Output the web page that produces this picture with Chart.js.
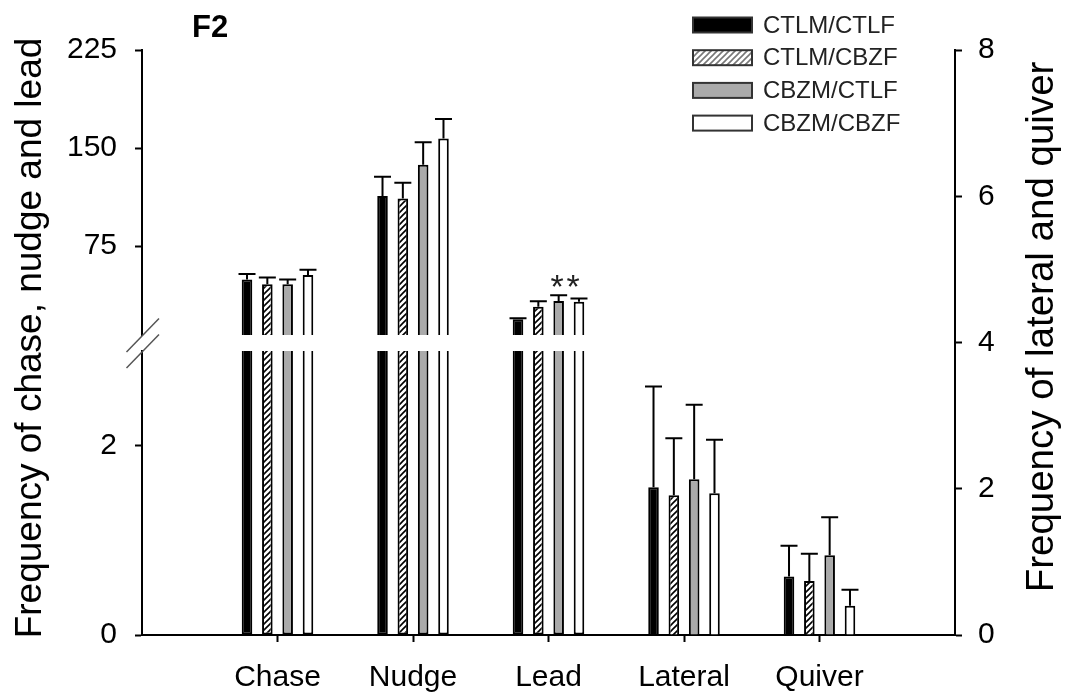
<!DOCTYPE html>
<html>
<head>
<meta charset="utf-8">
<script src="https://cdn.jsdelivr.net/npm/chart.js@4.4.1/dist/chart.umd.min.js"></script>
<style>
  html, body { margin: 0; padding: 0; background: #fff; }
</style>
</head>
<body>
<canvas id="chart" width="1065" height="698"></canvas>
<script>
const categories = ['Chase', 'Nudge', 'Lead', 'Lateral', 'Quiver'];
const groupNames = ['CTLM/CTLF', 'CTLM/CBZF', 'CBZM/CTLF', 'CBZM/CBZF'];

// means: chase, nudge, lead (left axis) / lateral, quiver (right axis)
const ctlmCtlf = [49.5, 113.3, 19.1, 2.02, 0.80];
const ctlmCbzf = [45.9, 111.5, 28.6, 1.91, 0.74];
const cbzmCtlf = [45.9, 137.2, 33.1, 2.13, 1.09];
const cbzmCbzf = [52.8, 157.4, 32.4, 1.94, 0.40];

// upper error bars
const ctlmCtlfErr = [4.1, 14.7, 0.8, 1.38, 0.42];
const ctlmCbzfErr = [5.1, 11.9, 4.3, 0.78, 0.37];
const cbzmCtlfErr = [3.6, 17.2, 4.4, 1.02, 0.52];
const cbzmCbzfErr = [4.2, 14.8, 2.6, 0.73, 0.22];

const leftTicksTop = [75, 150, 225];
const leftTicksBottom = [0, 2];
const rightTicks = [0, 2, 4, 6, 8];

const leftCount = 3; // first three categories use the left (broken) axis
const bottomMax = 3;
const FONT = '"Liberation Sans", Arial, sans-serif';

const makeHatch = (lineColor) => {
  const c = document.createElement('canvas');
  c.width = 6;
  c.height = 6;
  const g = c.getContext('2d');
  g.fillStyle = '#fff';
  g.fillRect(0, 0, 6, 6);
  g.strokeStyle = lineColor;
  g.lineWidth = 1.6;
  g.beginPath();
  g.moveTo(0, 6); g.lineTo(6, 0);
  g.moveTo(-1, 1); g.lineTo(1, -1);
  g.moveTo(5, 7); g.lineTo(7, 5);
  g.stroke();
  return g.createPattern(c, 'repeat');
};

const series = [ctlmCtlf, ctlmCbzf, cbzmCtlf, cbzmCbzf];
const errors = [ctlmCtlfErr, ctlmCbzfErr, cbzmCtlfErr, cbzmCbzfErr];
const fills = ['#000000', makeHatch('#000'), '#aaaaaa', '#ffffff'];
const legendFills = ['#000000', makeHatch('#777'), '#aaaaaa', '#ffffff'];

const xLabels = ['', ...categories, ''];
const pad = arr => [null, ...arr, null];

const datasets = [];
series.forEach((values, i) => {
  const common = {
    label: groupNames[i],
    backgroundColor: fills[i],
    borderColor: '#000',
    borderWidth: 2,
    stack: 'g' + i,
    categoryPercentage: 0.6,
    barPercentage: 0.52
  };
  datasets.push({ ...common, yAxisID: 'yTop',
    data: pad(values.map((v, j) => j < leftCount ? v : null)) });
  datasets.push({ ...common, yAxisID: 'yBottom', borderSkipped: 'end',
    data: pad(values.map((v, j) => j < leftCount ? Math.min(v, bottomMax) : null)) });
  datasets.push({ ...common, yAxisID: 'yRight',
    data: pad(values.map((v, j) => j < leftCount ? null : v)) });
});

const tickFont = { family: FONT, size: 30 };
const axisGrid = { drawOnChartArea: false, tickLength: 7, tickWidth: 2, tickColor: '#000' };
const axisBorder = { color: '#000', width: 2 };

const decorations = {
  id: 'decorations',
  afterDatasetsDraw(chart) {
    const ctx = chart.ctx;
    const { yTop, yBottom, yRight, x } = chart.scales;
    ctx.save();

    // error bars
    ctx.strokeStyle = '#000';
    ctx.lineWidth = 2;
    series.forEach((values, i) => {
      values.forEach((v, j) => {
        const left = j < leftCount;
        const meta = chart.getDatasetMeta(i * 3 + (left ? 0 : 2));
        const bar = meta.data[j + 1];
        const scale = left ? yTop : yRight;
        const yEnd = scale.getPixelForValue(v + errors[i][j]);
        ctx.beginPath();
        ctx.moveTo(bar.x, bar.y);
        ctx.lineTo(bar.x, yEnd);
        ctx.moveTo(bar.x - 8.5, yEnd);
        ctx.lineTo(bar.x + 8.5, yEnd);
        ctx.stroke();
      });
    });

    // axis break marks
    const ax = yTop.right;
    ctx.strokeStyle = '#555';
    ctx.lineWidth = 1.5;
    [yTop.bottom + 1, yBottom.top + 1].forEach(yy => {
      ctx.beginPath();
      ctx.moveTo(ax - 15.5, yy + 16);
      ctx.lineTo(ax + 17, yy - 17.5);
      ctx.stroke();
    });

    // significance marks over Lead
    const leadX = x.getPixelForValue(3);
    const starY = yTop.getPixelForValue(cbzmCtlf[2] + cbzmCtlfErr[2]) + 3;
    ctx.fillStyle = '#222';
    ctx.font = '34px ' + FONT;
    ctx.textAlign = 'center';
    ctx.textBaseline = 'alphabetic';
    ctx.fillText('*', leadX + 8.5, starY);
    ctx.fillText('*', leadX + 24.5, starY);
    ctx.restore();
  },
  afterDraw(chart) {
    const ctx = chart.ctx;
    ctx.save();
    ctx.fillStyle = '#000';
    ctx.textAlign = 'center';
    ctx.textBaseline = 'alphabetic';

    ctx.font = '37px ' + FONT;
    ctx.save();
    ctx.translate(41, 338);
    ctx.rotate(-Math.PI / 2);
    ctx.fillText('Frequency of chase, nudge and lead', 0, 0);
    ctx.restore();

    ctx.font = '38.5px ' + FONT;
    ctx.save();
    ctx.translate(1053, 327);
    ctx.rotate(-Math.PI / 2);
    ctx.fillText('Frequency of lateral and quiver', 0, 0);
    ctx.restore();

    ctx.font = 'bold 31px ' + FONT;
    ctx.textAlign = 'left';
    ctx.fillText('F2', 192, 37);

    // legend
    ctx.font = '24px ' + FONT;
    ctx.textBaseline = 'middle';
    groupNames.forEach((name, i) => {
      const cy = 25 + i * 32.7;
      ctx.fillStyle = legendFills[i];
      ctx.fillRect(693, cy - 7.5, 59, 15);
      ctx.strokeStyle = '#333';
      ctx.lineWidth = 2;
      ctx.strokeRect(693, cy - 7.5, 59, 15);
      ctx.fillStyle = '#222';
      ctx.fillText(name, 763, cy + 1);
    });
    ctx.restore();
  }
};

new Chart(document.getElementById('chart'), {
  type: 'bar',
  data: { labels: xLabels, datasets },
  options: {
    responsive: false,
    animation: false,
    layout: { padding: { top: 50, left: 0, right: 0, bottom: 0 } },
    plugins: {
      legend: { display: false },
      tooltip: { enabled: false }
    },
    scales: {
      x: {
        type: 'category',
        offset: false,
        grid: {
          ...axisGrid,
          offset: false,
          tickColor: c => (c.index === 0 || c.index === xLabels.length - 1) ? 'rgba(0,0,0,0)' : '#000'
        },
        border: axisBorder,
        ticks: { font: tickFont, color: '#000', padding: 18, autoSkip: false, maxRotation: 0 },
        afterFit: s => { s.height = 63; }
      },
      yBottom: {
        type: 'linear', position: 'left', stack: 'left', stackWeight: 284, stacked: false,
        min: 0, max: bottomMax,
        afterBuildTicks: s => { s.ticks = leftTicksBottom.map(v => ({ value: v })); },
        grid: axisGrid,
        border: axisBorder,
        ticks: { font: tickFont, color: '#000', padding: 18 },
        afterFit: s => { s.width = 142; }
      },
      yGap: {
        type: 'linear', position: 'left', stack: 'left', stackWeight: 16, stacked: false,
        min: 0, max: 1,
        grid: { display: false },
        border: { display: false },
        ticks: { display: false },
        afterFit: s => { s.width = 142; }
      },
      yTop: {
        type: 'linear', position: 'left', stack: 'left', stackWeight: 285, stacked: false,
        min: 7, max: 225,
        afterBuildTicks: s => { s.ticks = leftTicksTop.map(v => ({ value: v })); },
        grid: axisGrid,
        border: axisBorder,
        ticks: { font: tickFont, color: '#000', padding: 18 },
        afterFit: s => { s.width = 142; }
      },
      yRight: {
        type: 'linear', position: 'right', stacked: false,
        min: 0, max: 8,
        afterBuildTicks: s => { s.ticks = rightTicks.map(v => ({ value: v })); },
        grid: axisGrid,
        border: axisBorder,
        ticks: { font: tickFont, color: '#000', padding: 16 },
        afterFit: s => { s.width = 110; }
      }
    }
  },
  plugins: [decorations]
});
</script>
</body>
</html>
